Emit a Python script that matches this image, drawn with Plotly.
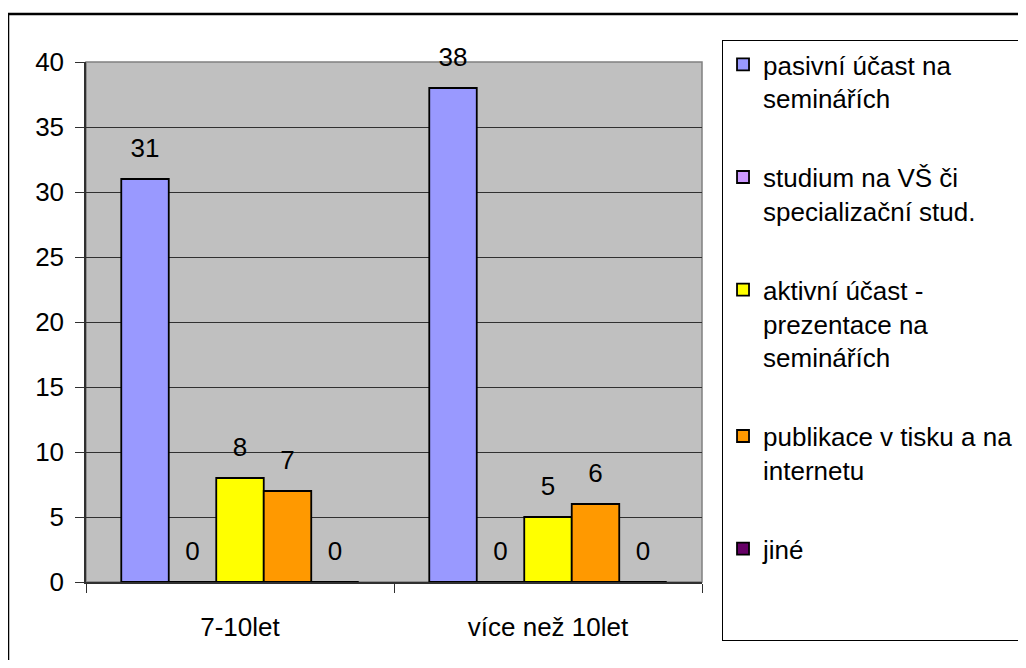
import plotly.graph_objects as go

# Data

CATEGORIES = ["7-10let", "více než 10let"]

SERIES_NAMES = [
    "pasivní účast na<br>seminářích",
    "studium na VŠ či<br>specializační stud.",
    "aktivní účast -<br>prezentace na<br>seminářích",
    "publikace v tisku a na<br>internetu",
    "jiné<br> <br> ",
]

PASIVNI = [31, 38]
STUDIUM = [0, 0]
AKTIVNI = [8, 5]
PUBLIKACE = [7, 6]
JINE = [0, 0]

SERIES_VALUES = [PASIVNI, STUDIUM, AKTIVNI, PUBLIKACE, JINE]

COLORS = ["#9999FF", "#CC99FF", "#FFFF00", "#FF9900", "#660066"]

FONT = "Liberation Sans, Arial, sans-serif"
FONT_SIZE = 26
BAR_GAP = 0.229

fig = go.Figure()

for i, (name, vals, color) in enumerate(zip(SERIES_NAMES, SERIES_VALUES, COLORS)):
    fig.add_trace(go.Bar(
        x=CATEGORIES,
        y=vals,
        name=name,
        legendgroup=f"g{i}",
        marker=dict(color=color, line=dict(color="black", width=1.8)),
        hoverinfo="skip",
    ))

# data labels, grouped the same way as the bars
for i, vals in enumerate(SERIES_VALUES):
    fig.add_trace(go.Scatter(
        x=CATEGORIES,
        y=vals,
        mode="markers+text",
        text=[str(v) for v in vals],
        textposition="top center",
        textfont=dict(size=FONT_SIZE, color="black", family=FONT),
        marker=dict(size=24, color="rgba(0,0,0,0)"),
        showlegend=False,
        hoverinfo="skip",
        cliponaxis=False,
    ))

# the page body adds an 8px margin, so the figure is 16px smaller than the window
fig.update_layout(
    width=1010,
    height=652,
    barmode="group",
    bargap=BAR_GAP,
    bargroupgap=0,
    scattermode="group",
    scattergap=BAR_GAP,
    plot_bgcolor="#C0C0C0",
    paper_bgcolor="white",
    font=dict(family=FONT, size=FONT_SIZE, color="black"),
    margin=dict(l=78, r=316, t=54, b=78, autoexpand=False),
    legend=dict(
        x=1.0325,
        y=1.0423,
        xanchor="left",
        yanchor="top",
        bordercolor="black",
        borderwidth=1,
        bgcolor="white",
        font=dict(size=FONT_SIZE, family=FONT),
        tracegroupgap=42,
        valign="top",
        maxheight=800,
        itemclick=False,
    ),
    showlegend=True,
)

fig.update_xaxes(
    type="category",
    showline=True,
    linecolor="#303030",
    linewidth=1.5,
    ticks="outside",
    tickson="boundaries",
    ticklen=9,
    tickcolor="#303030",
    ticklabelstandoff=21,
    showgrid=False,
)

fig.update_yaxes(
    range=[0, 40],
    dtick=5,
    showline=True,
    linecolor="#303030",
    linewidth=1.5,
    ticks="outside",
    ticklen=9,
    tickcolor="#303030",
    ticklabelstandoff=6,
    showgrid=True,
    gridcolor="#303030",
    gridwidth=1,
    zeroline=False,
)

# plot area border (gray) and outer chart frame (black)
fig.add_shape(type="rect", xref="paper", yref="paper", x0=0, x1=1, y0=0, y1=1,
              line=dict(color="#808080", width=1.5), layer="below")
fig.add_shape(type="rect", xref="paper", yref="paper", x0=-0.1266, x1=1.6, y0=-0.3, y1=1.0923,
              line=dict(color="black", width=2.5))

fig.write_html("out.html")
